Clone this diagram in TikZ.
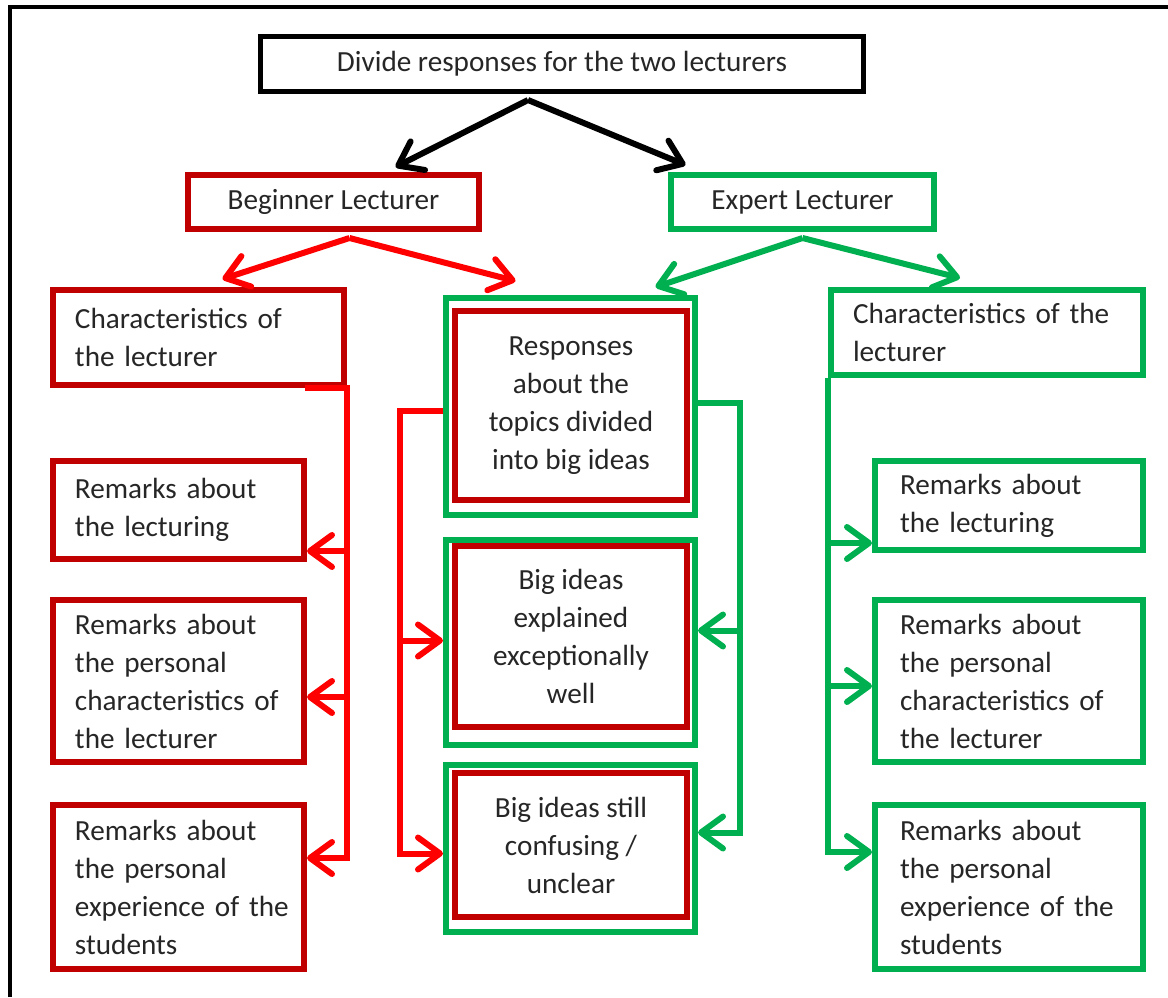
\documentclass[tikz,border=0pt]{standalone}
\usepackage{fontspec}
\setmainfont{Carlito}
\usetikzlibrary{calc,arrows.meta}

\definecolor{boxred}{HTML}{C00000}
\definecolor{linered}{HTML}{FF0000}
\definecolor{msgreen}{HTML}{00B050}

\begin{document}
\begin{tikzpicture}[
  x=0.5pt, y=-0.5pt, >={Straight Barb[length=11pt, width=16pt, round]},
  every node/.style={font=\fontsize{14.6}{19}\selectfont, text=black!85},
  topbox/.style={rectangle, draw=black, line width=2.5pt, inner sep=0pt},
  redbox/.style={rectangle, draw=boxred, line width=3pt, inner sep=0pt, align=center},
  greenbox/.style={rectangle, draw=msgreen, line width=3pt, inner sep=0pt, align=center},
  leftbox/.style={align=left, inner xsep=11pt},
  blackline/.style={draw=black, line width=3pt},
  redline/.style={draw=linered, line width=3pt},
  greenline/.style={draw=msgreen, line width=3pt}
]
  \useasboundingbox (0,0) rectangle (1168,997);

  % Frame
  \draw[line width=2pt] (10,997) -- (10,7) -- (1168,7);

  % ==================== TOP ====================
  \node[topbox, minimum width=301.5pt, minimum height=27.5pt] (divide) at (562,64) {Divide responses for the two lecturers};
  \node[redbox, minimum width=145.5pt, minimum height=27pt] (beginner) at (333.5,202) {Beginner Lecturer};
  \node[greenbox, minimum width=131.5pt, minimum height=27pt] (expert) at (802.5,202) {Expert Lecturer};

  % ==================== LEFT: BEGINNER ====================
  \node[redbox, leftbox, text width=123.5pt, minimum height=47.5pt] (charL) at (198.5,337.5) {Characteristics of\\the lecturer};
  \node[redbox, leftbox, text width=103.5pt, minimum height=49pt] (lectL) at (178.5,510) {Remarks about\\the lecturing};
  \node[redbox, leftbox, text width=103.5pt, minimum height=81pt] (persL) at (178.5,681) {Remarks about\\the personal\\characteristics~of\\the lecturer};
  \node[redbox, leftbox, text width=103.5pt, minimum height=82pt] (expL) at (178.5,887) {Remarks about\\the personal\\experience~of~the\\students};

  % ==================== MIDDLE: SHARED ====================
  \node[greenbox, minimum width=124.5pt, minimum height=108.5pt] (topicsG) at (570.5,406.5) {};
  \node[redbox, minimum width=116pt, minimum height=94.5pt] (topics) at (571,405.5) {Responses\\about the\\topics divided\\into big ideas};
  \node[greenbox, minimum width=124.5pt, minimum height=102.5pt] (explG) at (570.5,642.5) {};
  \node[redbox, minimum width=116pt, minimum height=90.5pt] (expl) at (571,636.5) {Big ideas\\explained\\exceptionally\\well};
  \node[greenbox, minimum width=124.5pt, minimum height=83.5pt] (confG) at (570.5,848.5) {};
  \node[redbox, minimum width=116pt, minimum height=72pt] (conf) at (571,845) {Big ideas still\\confusing /\\unclear};

  % ==================== RIGHT: EXPERT ====================
  \node[greenbox, leftbox, text width=134pt, minimum height=42.5pt] (charR) at (987,332.5) {Characteristics~of~the\\lecturer};
  \node[greenbox, leftbox, inner xsep=12.5pt, text width=109pt, minimum height=44.5pt] (lectR) at (1009,505.5) {Remarks about\\the lecturing};
  \node[greenbox, leftbox, inner xsep=12.5pt, text width=109pt, minimum height=81pt] (persR) at (1009,681) {Remarks about\\the personal\\characteristics~of\\the lecturer};
  \node[greenbox, leftbox, inner xsep=12.5pt, text width=109pt, minimum height=82pt] (expR) at (1009,887) {Remarks about\\the personal\\experience~of~the\\students};

  % Divide -> lecturers
  \coordinate (split) at ($(divide.south)+(-34,6)$);
  \draw[blackline, ->] (split) -- ($(beginner.north)+(62,-5)$);
  \draw[blackline, ->] (split) -- ($(expert.north)+(-117,-7)$);

  % Lecturers -> columns
  \coordinate (bSplit) at ($(beginner.south)+(16,6)$);
  \draw[redline, ->] (bSplit) -- ($(charL.north)+(24,-8)$);
  \draw[redline, ->] (bSplit) -- ($(topicsG.north)+(-55,-14)$);
  \coordinate (eSplit) at ($(expert.south)+(0,6)$);
  \draw[greenline, ->] (eSplit) -- ($(topicsG.north)+(85,-8)$);
  \draw[greenline, ->] (eSplit) -- ($(charR.north)+(-27,-9)$);

  % Left trunk
  \coordinate (lArr1) at ($(lectL.south east)+(0,-11)$);
  \coordinate (lArr2) at ($(persL.east)+(0,16)$);
  \coordinate (lArr3) at ($(expL.east)+(0,-29)$);
  \draw[redline, ->] ($(charL.south east)+(-42,0)$) -- (charL.south east) -- (charL.south east |- lArr3) -- (lArr3);
  \draw[redline, ->] (charL.south east |- lArr1) -- (lArr1);
  \draw[redline, ->] (charL.south east |- lArr2) -- (lArr2);

  % Middle trunks
  \coordinate (mTrunk) at ($(topicsG.west)+(-43,4)$);
  \coordinate (mArr2) at ($(explG.west)+(0,-2)$);
  \coordinate (mArr3) at ($(confG.west)+(0,5)$);
  \draw[redline, ->] (topicsG.west |- mTrunk) -- (mTrunk) |- (mArr3);
  \draw[redline, ->] (mTrunk |- mArr2) -- (mArr2);

  \coordinate (gTrunk) at ($(topicsG.east)+(42,-4)$);
  \coordinate (gArr2) at ($(explG.east)+(0,-12)$);
  \coordinate (gArr3) at ($(confG.east)+(0,-16)$);
  \draw[greenline, ->] (topicsG.east |- gTrunk) -- (gTrunk) |- (gArr3);
  \draw[greenline, ->] (gTrunk |- gArr2) -- (gArr2);

  % Right trunk
  \coordinate (rArr1) at ($(lectR.south west)+(0,-10)$);
  \coordinate (rArr2) at ($(persR.west)+(0,5)$);
  \coordinate (rArr3) at ($(expR.west)+(0,-35)$);
  \draw[greenline, ->] (charR.south west) -- (charR.south west |- rArr3) -- (rArr3);
  \draw[greenline, ->] (charR.south west |- rArr1) -- (rArr1);
  \draw[greenline, ->] (charR.south west |- rArr2) -- (rArr2);

\end{tikzpicture}
\end{document}
